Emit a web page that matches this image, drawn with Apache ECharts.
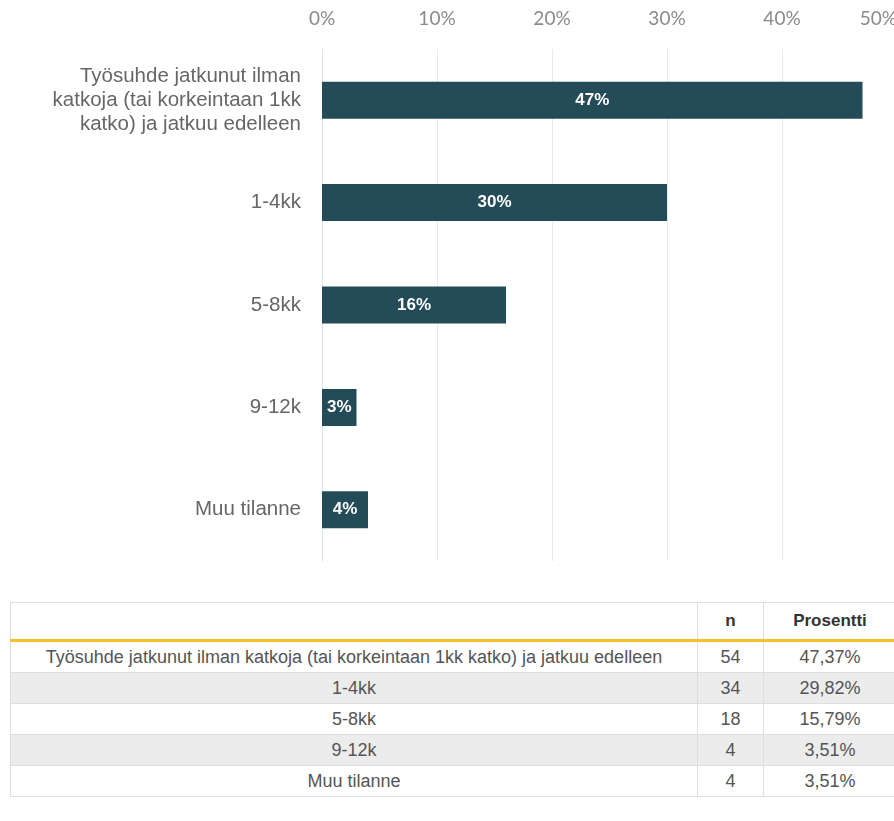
<!DOCTYPE html>
<html>
<head>
<meta charset="utf-8">
<script src="https://cdn.jsdelivr.net/npm/echarts@6/dist/echarts.min.js"></script>
<style>
  html, body { margin: 0; padding: 0; background: #fff; overflow: hidden; }
  #chart { position: absolute; left: 0; top: 0; width: 894px; height: 580px; }
  #tbl {
    position: absolute; left: 10px; top: 602px; width: 886px;
    border-collapse: collapse; font-family: "Liberation Sans", Arial, sans-serif;
    font-size: 18px; color: #555; table-layout: fixed;
  }
  #tbl th, #tbl td { border: 1px solid #dedede; text-align: center; padding: 0; white-space: nowrap; }
  #tbl th { height: 36px; color: #333; font-weight: bold; font-size: 17px; border-bottom: 3px solid #f6c12a; }
  #tbl td { height: 30px; }
  #tbl tbody tr:nth-child(even) td { background: #ececec; }
</style>
</head>
<body>
<div id="chart"></div>
<table id="tbl">
  <colgroup><col style="width:687px"><col style="width:66px"><col style="width:133px"></colgroup>
  <thead><tr><th></th><th>n</th><th>Prosentti</th></tr></thead>
  <tbody></tbody>
</table>
<script>
// kategoriat ja arvot
const categories = [
  'Työsuhde jatkunut ilman katkoja (tai korkeintaan 1kk katko) ja jatkuu edelleen',
  '1-4kk',
  '5-8kk',
  '9-12k',
  'Muu tilanne'
];
const axisLabels = [
  'Työsuhde jatkunut ilman\nkatkoja (tai korkeintaan 1kk\nkatko) ja jatkuu edelleen',
  '1-4kk',
  '5-8kk',
  '9-12k',
  'Muu tilanne'
];
const barValues = [47, 30, 16, 3, 4];
const counts = [54, 34, 18, 4, 4];
const percents = ['47,37%', '29,82%', '15,79%', '3,51%', '3,51%'];

const chart = echarts.init(document.getElementById('chart'));
chart.setOption({
  animation: false,
  grid: { left: 322, top: 49, width: 575, height: 512, outerBoundsMode: 'none' },
  xAxis: {
    type: 'value',
    position: 'top',
    min: 0,
    max: 50,
    interval: 10,
    axisLine: { show: false },
    axisTick: { show: false },
    axisLabel: {
      formatter: '{value}%',
      color: '#8a8a8a',
      fontFamily: 'Lato',
      fontSize: 19,
      margin: 21,
      alignMaxLabel: 'right'
    },
    splitLine: { lineStyle: { color: '#e6e9ee', width: 1 } }
  },
  yAxis: {
    type: 'category',
    inverse: true,
    data: axisLabels,
    axisLine: { show: true, lineStyle: { color: '#dbe3ec' } },
    axisTick: { show: false },
    axisLabel: {
      color: '#666',
      fontFamily: 'Liberation Sans',
      fontSize: 20.5,
      lineHeight: 24,
      margin: 21,
      align: 'right'
    }
  },
  series: [{
    type: 'bar',
    data: barValues,
    barWidth: 37,
    itemStyle: { color: '#234b58' },
    label: {
      show: true,
      position: 'inside',
      formatter: '{c}%',
      color: '#fff',
      fontFamily: 'Liberation Sans',
      fontWeight: 'bold',
      fontSize: 17
    }
  }]
});

// taulukko
const tbody = document.querySelector('#tbl tbody');
categories.forEach((c, i) => {
  const tr = document.createElement('tr');
  tr.innerHTML = '<td>' + c + '</td><td>' + counts[i] + '</td><td>' + percents[i] + '</td>';
  tbody.appendChild(tr);
});
</script>
</body>
</html>
